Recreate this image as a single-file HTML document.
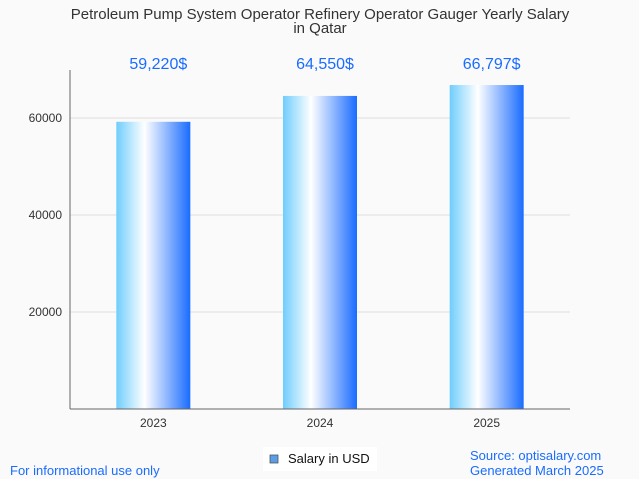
<!DOCTYPE html>
<html><head><meta charset="utf-8"><style>
html,body{margin:0;padding:0;background:#fafafa;}
svg{display:block;font-family:"Liberation Sans",sans-serif;}
</style></head><body>
<svg id="chart" width="639" height="479" viewBox="0 0 639 479">
<defs>
<linearGradient id="bg" x1="0" x2="1" y1="0" y2="0">
<stop offset="0" stop-color="#6fcdfc"/>
<stop offset="0.38" stop-color="#ffffff"/>
<stop offset="1" stop-color="#1a6cff"/>
</linearGradient>
</defs>
<rect width="639" height="479" fill="#fafafa"/>
<text x="320" y="19" text-anchor="middle" font-size="15" fill="#333">Petroleum Pump System Operator Refinery Operator Gauger Yearly Salary</text>
<text x="320" y="33" text-anchor="middle" font-size="15" fill="#333">in Qatar</text>
<g id="grid"></g>
<g id="bars"></g>
<line x1="70" y1="70" x2="70" y2="409" stroke="#666"/>
<line x1="70" y1="409" x2="570" y2="409" stroke="#666"/>
<g>
<rect x="263" y="447" width="114" height="24" fill="#fff"/>
<rect x="270" y="455" width="8" height="8" fill="#5b9ee8" stroke="#555" stroke-width="0.8"/>
<text x="288" y="463" font-size="13" fill="#111">Salary in USD</text>
</g>
<text x="10" y="475" font-size="13" fill="#1a6cff">For informational use only</text>
<text x="470" y="460" font-size="13" fill="#1a6cff">Source: optisalary.com</text>
<text x="470" y="475" font-size="13" fill="#1a6cff">Generated March 2025</text>
</svg>
<script>
const categories = ["2023","2024","2025"];
const values = [59220, 64550, 66797];
const valueLabels = ["59,220$","64,550$","66,797$"];
const yTicks = [20000, 40000, 60000];
const yMax = 70000;
const NS = "http://www.w3.org/2000/svg";
const plotL = 70, plotR = 570, plotT = 69.5, plotB = 409;
function y(v){ return plotB - (v / yMax) * (plotB - plotT); }
function xCenter(i){ const w = (plotR - plotL) / categories.length; return plotL + w * (i + 0.5); }
function mk(tag, attrs, parent){ const e = document.createElementNS(NS, tag); for (const k in attrs) e.setAttribute(k, attrs[k]); parent.appendChild(e); return e; }
const grid = document.getElementById("grid"), bars = document.getElementById("bars");
yTicks.forEach(t => {
  const l = mk("line", {x1: plotL, x2: plotR, y1: y(t), y2: y(t), stroke: "#ddd"}, grid);
  
  
  const tx = mk("text", {x: 62, y: y(t) + 4, "text-anchor": "end", "font-size": 12, fill: "#333"}, grid);
  tx.textContent = t;
  
  
});
const bw = 74;
categories.forEach((c, i) => {
  const cx = xCenter(i);
  const r = mk("rect", {x: cx - bw/2, y: y(values[i]), width: bw, height: plotB - y(values[i]), fill: "url(#bg)"}, bars);
  
  
  const vl = mk("text", {x: cx + 5, y: 69, "text-anchor": "middle", "font-size": 16, fill: "#1a6cff"}, bars);
  vl.textContent = valueLabels[i];
  
  
  const xl = mk("text", {x: cx, y: 427, "text-anchor": "middle", "font-size": 12, fill: "#333"}, bars);
  xl.textContent = c;
  
  
});
</script>
</body></html>
